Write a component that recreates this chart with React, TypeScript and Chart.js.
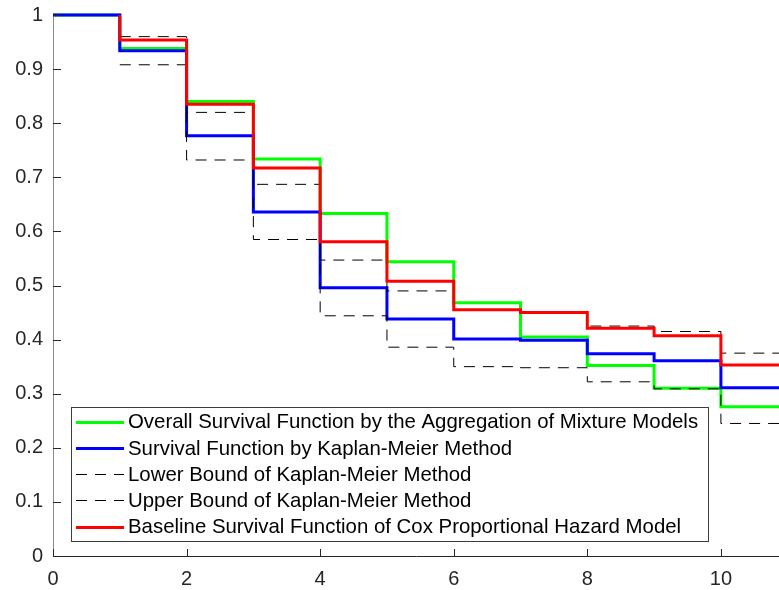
import { useEffect, useRef } from 'react';
import { Chart, registerables } from 'chart.js';

Chart.register(...registerables);

// Step start times (the final entry carries the last value out to the right edge)
const stepTimes = [0, 1, 2, 3, 4, 5, 6, 7, 8, 9, 10, 11];
const overallSurvival = [1, 0.938, 0.84, 0.734, 0.633, 0.544, 0.468, 0.405, 0.352, 0.31, 0.276, 0.276];
const kmSurvival = [1, 0.934, 0.777, 0.636, 0.496, 0.438, 0.401, 0.399, 0.374, 0.361, 0.311, 0.311];

// Confidence bounds begin at the first event time
const boundTimes = [1, 2, 3, 4, 5, 6, 7, 8, 9, 10, 11];
const kmLower = [0.908, 0.732, 0.585, 0.444, 0.386, 0.35, 0.348, 0.322, 0.309, 0.245, 0.245];
const kmUpper = [0.96, 0.82, 0.687, 0.547, 0.49, 0.454, 0.45, 0.425, 0.415, 0.375, 0.375];

// Cox baseline starts at 1 at the first event time and drops immediately
const coxTimes = [1, 1, 2, 3, 4, 5, 6, 7, 8, 9, 10, 11];
const coxSurvival = [1, 0.954, 0.835, 0.717, 0.581, 0.508, 0.455, 0.45, 0.421, 0.407, 0.353, 0.353];

const xTicks = [0, 2, 4, 6, 8, 10];
const yTicks = [0, 0.1, 0.2, 0.3, 0.4, 0.5, 0.6, 0.7, 0.8, 0.9, 1];
const xMax = 10.87;

const seriesLabels = [
  'Overall Survival Function by the Aggregation of Mixture Models',
  'Survival Function by Kaplan-Meier Method',
  'Lower Bound of Kaplan-Meier Method',
  'Upper Bound of Kaplan-Meier Method',
  'Baseline Survival Function of Cox Proportional Hazard Model',
];

const FONT = '"Liberation Sans", Arial, Helvetica, sans-serif';
const DASH = [11, 8];

const toPoints = (xs: number[], ys: number[]) => xs.map((x, i) => ({ x, y: ys[i] }));

// MATLAB-style tick marks pointing into the plot area
const innerTicks = {
  id: 'innerTicks',
  afterDatasetsDraw(chart: any) {
    const { ctx, chartArea, scales } = chart;
    ctx.save();
    ctx.strokeStyle = '#262626';
    ctx.lineWidth = 1;
    ctx.beginPath();
    for (const v of xTicks) {
      const px = Math.round(scales.x.getPixelForValue(v)) + 0.5;
      ctx.moveTo(px, chartArea.bottom);
      ctx.lineTo(px, chartArea.bottom - 7);
    }
    for (const v of yTicks) {
      const py = Math.round(scales.y.getPixelForValue(v)) + 0.5;
      ctx.moveTo(chartArea.left, py);
      ctx.lineTo(chartArea.left + 8, py);
    }
    ctx.stroke();
    ctx.restore();
  },
};

// Boxed legend in the lower-left corner of the axes
const boxLegend = {
  id: 'boxLegend',
  afterDraw(chart: any) {
    const { ctx, chartArea } = chart;
    const left = chartArea.left + 18;
    const width = 637;
    const height = 134;
    const top = chartArea.bottom - 15 - height;
    const rowGap = 26.25;
    const firstRow = top + 14.7;
    ctx.save();
    ctx.fillStyle = '#ffffff';
    ctx.fillRect(left, top, width, height);
    ctx.strokeStyle = '#3c3c3c';
    ctx.lineWidth = 1;
    ctx.strokeRect(Math.round(left) + 0.5, Math.round(top) + 0.5, width, height);
    ctx.font = `20.4px ${FONT}`;
    ctx.textBaseline = 'middle';
    ctx.textAlign = 'left';
    chart.data.datasets.forEach((ds: any, i: number) => {
      const y = firstRow + i * rowGap;
      const off = ds.borderWidth % 2 ? 0.5 : 0;
      ctx.save();
      ctx.strokeStyle = ds.borderColor;
      ctx.lineWidth = ds.borderWidth;
      ctx.setLineDash(ds.borderDash || []);
      ctx.beginPath();
      ctx.moveTo(left + 5, Math.round(y) + off);
      ctx.lineTo(left + 53, Math.round(y) + off);
      ctx.stroke();
      ctx.restore();
      ctx.fillStyle = '#000000';
      ctx.fillText(ds.label, left + 57, y + 1);
    });
    ctx.restore();
  },
};

export default function App() {
  const canvasRef = useRef<HTMLCanvasElement | null>(null);

  useEffect(() => {
    if (!canvasRef.current) return;
    const chart = new Chart(canvasRef.current, {
      type: 'line',
      data: {
        datasets: [
          {
            label: seriesLabels[0],
            data: toPoints(stepTimes, overallSurvival),
            borderColor: '#00ff00',
            borderWidth: 3,
            stepped: 'before',
            clip: false,
            order: 4,
          },
          {
            label: seriesLabels[1],
            data: toPoints(stepTimes, kmSurvival),
            borderColor: '#0000ff',
            borderWidth: 3,
            stepped: 'before',
            clip: false,
            order: 3,
          },
          {
            label: seriesLabels[2],
            data: toPoints(boundTimes, kmLower),
            borderColor: '#000000',
            borderWidth: 1,
            borderDash: DASH,
            stepped: 'before',
            clip: false,
            order: 2,
          },
          {
            label: seriesLabels[3],
            data: toPoints(boundTimes, kmUpper),
            borderColor: '#000000',
            borderWidth: 1,
            borderDash: DASH,
            stepped: 'before',
            clip: false,
            order: 1,
          },
          {
            label: seriesLabels[4],
            data: toPoints(coxTimes, coxSurvival),
            borderColor: '#ff0000',
            borderWidth: 3,
            stepped: 'before',
            clip: false,
            order: 0,
          },
        ],
      },
      options: {
        responsive: false,
        maintainAspectRatio: false,
        devicePixelRatio: 1,
        animation: false,
        events: [],
        layout: { padding: { top: 15, right: 0, bottom: 0, left: 0 } },
        elements: { point: { radius: 0 }, line: { tension: 0, fill: false } },
        plugins: { legend: { display: false }, tooltip: { enabled: false } },
        scales: {
          x: {
            type: 'linear',
            min: 0,
            max: xMax,
            afterBuildTicks: (s: any) => {
              s.ticks = xTicks.map((value) => ({ value }));
            },
            afterFit: (s: any) => {
              s.height = 34;
              s.paddingLeft = 0;
              s.paddingRight = 0;
            },
            ticks: {
              font: { family: FONT, size: 20 },
              color: '#262626',
              padding: 11,
              maxRotation: 0,
              autoSkip: false,
              callback: (v: any) => String(v),
            },
            grid: { display: false, drawTicks: false },
            border: { display: true, color: '#262626', width: 1 },
          },
          y: {
            type: 'linear',
            min: 0,
            max: 1,
            afterBuildTicks: (s: any) => {
              s.ticks = yTicks.map((value) => ({ value }));
            },
            afterFit: (s: any) => {
              s.width = 53;
              s.paddingTop = 0;
              s.paddingBottom = 0;
            },
            ticks: {
              font: { family: FONT, size: 20 },
              color: '#262626',
              padding: 10,
              autoSkip: false,
              callback: (v: any) => String(v),
            },
            grid: { display: false, drawTicks: false },
            border: { display: true, color: '#8a8a8a', width: 1 },
          },
        },
      },
      plugins: [innerTicks, boxLegend],
    } as any);
    return () => chart.destroy();
  }, []);

  return (
    <div style={{ position: 'fixed', left: 0, top: 0, width: 779, height: 590, background: '#ffffff' }}>
      <canvas ref={canvasRef} width={779} height={590} />
    </div>
  );
}
